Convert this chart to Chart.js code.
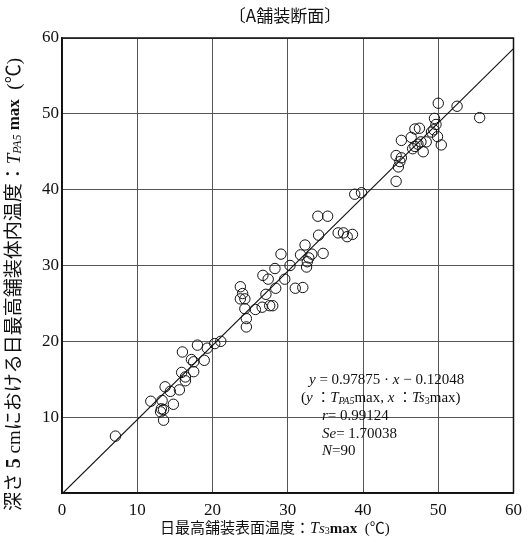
<!DOCTYPE html>
<html>
<head>
<meta charset="utf-8">
<title>A舗装断面</title>
<script src="https://cdn.jsdelivr.net/npm/chart.js@4/dist/chart.umd.min.js"></script>
<style>
    body { margin: 0; background: #fff; }
</style>
</head>
<body>
<canvas id="myChart" width="529" height="543"></canvas>
<script>
// 日最高舗装表面温度 Ts3max (℃)
const surfaceTemp = [
    7.1, 11.8, 13.3, 13.2, 13.5, 13.1, 13.5, 13.7, 14.4, 14.8,
    15.6, 15.9, 16.4, 16.4, 16.0, 17.2, 17.5, 17.5, 18.9, 18.0,
    19.3, 20.3, 21.1, 23.7, 24.0, 23.7, 24.3, 24.3, 24.5, 24.5,
    25.7, 26.6, 27.6, 28.0, 26.7, 27.4, 27.1, 28.4, 28.3, 29.1,
    29.6, 30.3, 31.0, 32.0, 31.7, 32.3, 32.5, 32.6, 32.8, 33.2,
    34.7, 34.1, 34.0, 35.3, 36.7, 37.4, 37.9, 38.6, 38.9, 39.8,
    44.4, 44.7, 44.9, 44.4, 45.1, 45.1, 46.4, 46.9, 47.5, 46.6,
    46.9, 47.3, 47.7, 48.4, 48.0, 49.1, 49.4, 49.7, 49.5, 49.9,
    50.4, 50.0, 52.5, 55.5
];
// 深さ5cmの日最高舗装体内温度 TPA5max (℃)
const innerTemp = [
    7.5, 12.1, 12.2, 11.1, 11.0, 10.7, 9.6, 14.0, 13.4, 11.7,
    13.6, 15.9, 15.3, 14.8, 18.6, 17.6, 17.3, 16.0, 17.5, 19.5,
    19.1, 19.7, 20.0, 27.2, 26.3, 25.6, 25.6, 24.3, 23.0, 21.9,
    24.2, 24.5, 24.7, 24.7, 28.7, 28.2, 26.2, 27.0, 29.6, 31.5,
    28.2, 30.0, 27.0, 27.1, 31.4, 32.7, 29.8, 30.5, 31.0, 31.5,
    31.6, 34.0, 36.5, 36.5, 34.3, 34.3, 33.8, 34.1, 39.4, 39.6,
    41.1, 43.0, 43.7, 44.5, 44.2, 46.5, 46.9, 48.0, 48.1, 45.4,
    45.7, 46.0, 46.3, 46.3, 45.0, 47.6, 47.9, 48.6, 49.4, 47.0,
    45.9, 51.4, 51.0, 49.5
];

// 回帰式 y = a·x + b
const slope = 0.97875;
const intercept = -0.12048;
const fitRange = [-intercept / slope, 60];

const axisTicks = [0, 10, 20, 30, 40, 50, 60];
const xTickLabels = ['0', '10', '20', '30', '40', '50', '60'];
const yTickLabels = ['', '10', '20', '30', '40', '50', '60'];

const points = surfaceTemp.map((x, i) => ({ x: x, y: innerTemp[i] }));
const fitLine = fitRange.map(x => ({ x: x, y: slope * x + intercept }));

const SERIF = "'Liberation Serif', 'Noto Sans CJK JP', serif";
const N = (s) => s + 'px ' + SERIF;
const I = (s) => 'italic ' + s + 'px ' + SERIF;

// draws a line of text made of runs with their own fonts
function drawRuns(ctx, x, y, runs) {
    runs.forEach(r => {
        ctx.font = r[1];
        ctx.fillText(r[0], x, y + (r[2] || 0));
        x += ctx.measureText(r[0]).width;
    });
    return x;
}

const annotations = {
    id: 'annotations',
    afterDraw(chart) {
        const ctx = chart.ctx;
        const area = chart.chartArea;
        ctx.save();

        // frame
        ctx.strokeStyle = '#111';
        ctx.lineWidth = 1.5;
        ctx.strokeRect(area.left, area.top, area.right - area.left, area.bottom - area.top);

        ctx.fillStyle = '#111';
        ctx.textBaseline = 'middle';

        // title
        ctx.textAlign = 'center';
        ctx.font = "17px 'Noto Sans CJK JP', " + SERIF;
        ctx.fillText('〔A舗装断面〕', 285, 16);
        ctx.textAlign = 'left';

        // regression box
        drawRuns(ctx, 309, 380, [['y', I(15)], [' = 0.97875 · ', N(15)], ['x', I(15)], [' − 0.12048', N(15)]]);
        drawRuns(ctx, 301, 398, [['(', N(15)], ['y', I(15)], [' ：', N(14)], ['T', I(15)], ['PA5', I(10), 3],
            ['max, ', N(15)], ['x', I(15)], [' ：', N(14)], ['Ts', I(15)], ['3', N(10), 3], ['max)', N(15)]]);
        drawRuns(ctx, 322, 416, [['r', I(15)], ['= 0.99124', N(15)]]);
        drawRuns(ctx, 322, 434, [['Se', I(15)], ['= 1.70038', N(15)]]);
        drawRuns(ctx, 322, 451, [['N', I(15)], ['=90', N(15)]]);

        // x axis title
        drawRuns(ctx, 160, 529, [['日最高舗装表面温度：', N(15)], ['T', I(16)], ['s', I(15)], ['3', N(10), 2],
            ['max', 'bold ' + N(15)], ['  (℃)', N(15)]]);

        // y axis title
        ctx.translate(15, 511);
        ctx.rotate(-Math.PI / 2);
        drawRuns(ctx, 0, 0, [['深さ ', N(19)], ['5', 'bold ' + N(20)], [' cmにおける日最高舗装体内温度：', N(19)],
            ['T', I(19)], ['PA5', I(12), 3], [' max', 'bold ' + N(17)], ['  (℃)', N(19)]]);

        ctx.restore();
    }
};

const ctx = document.getElementById('myChart').getContext('2d');

const myChart = new Chart(ctx, {
    type: 'scatter',
    data: {
        datasets: [
            {
                label: 'TPA5max',
                data: points,
                pointRadius: 5.2,
                pointBorderWidth: 1,
                borderColor: '#111',
                backgroundColor: 'rgba(0,0,0,0)'
            },
            {
                type: 'line',
                label: 'fit',
                data: fitLine,
                showLine: true,
                borderColor: '#111',
                borderWidth: 1.1,
                pointRadius: 0
            }
        ]
    },
    options: {
        responsive: false,
        animation: false,
        layout: { padding: { top: 38, right: 13, left: 0, bottom: 0 } },
        plugins: {
            legend: { display: false },
            tooltip: { enabled: false }
        },
        scales: {
            x: {
                type: 'linear',
                min: 0,
                max: 60,
                afterBuildTicks: (scale) => { scale.ticks = axisTicks.map(v => ({ value: v })); },
                afterFit: (scale) => { scale.height = 50; },
                grid: { color: '#555', lineWidth: 1, drawTicks: false },
                border: { color: '#111', width: 1.5 },
                ticks: {
                    padding: 7,
                    color: '#111',
                    font: { family: SERIF, size: 17 },
                    callback: (v, i) => xTickLabels[i]
                }
            },
            y: {
                type: 'linear',
                min: 0,
                max: 60,
                afterBuildTicks: (scale) => { scale.ticks = axisTicks.map(v => ({ value: v })); },
                afterFit: (scale) => { scale.width = 62; },
                grid: { color: '#555', lineWidth: 1, drawTicks: false },
                border: { color: '#111', width: 1.5 },
                ticks: {
                    padding: 3,
                    color: '#111',
                    font: { family: SERIF, size: 17 },
                    callback: (v, i) => yTickLabels[i]
                }
            }
        }
    },
    plugins: [annotations]
});
</script>
</body>
</html>
